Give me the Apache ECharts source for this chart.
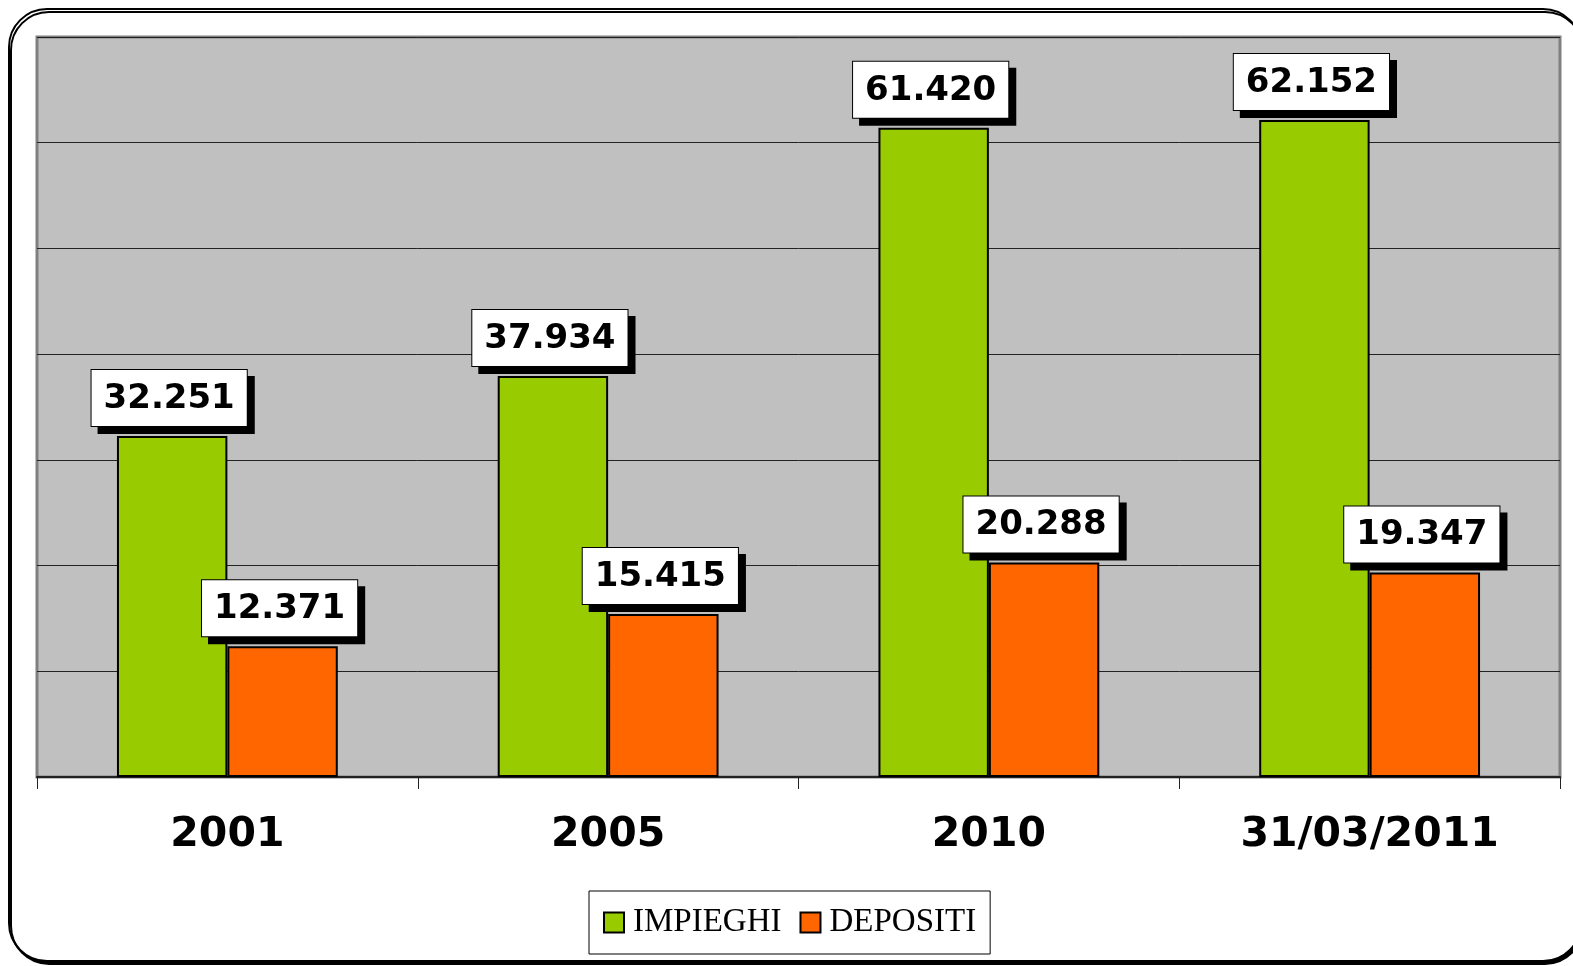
<!DOCTYPE html>
<html>
<head>
<meta charset="utf-8">
<script src="https://cdn.jsdelivr.net/npm/echarts@6/dist/echarts.min.js"></script>
<style>
html,body{margin:0;padding:0;background:#fff;}
#main{width:1573px;height:966px;}
</style>
</head>
<body>
<div id="main"></div>
<script>
var categories = ['2001', '2005', '2010', '31/03/2011'];
var impieghi = [32251, 37934, 61420, 62152];
var depositi = [12371, 15415, 20288, 19347];
var seriesNames = ['IMPIEGHI', 'DEPOSITI'];

var myChart = echarts.init(document.getElementById('main'));

function fmt(p) {
	// separatore delle migliaia all'italiana
	return (p.value / 1000).toFixed(3);
}

var valueLabel = {
	show: true,
	position: 'top',
	distance: 10,
	offset: [-3, 0],
	formatter: fmt,
	fontFamily: 'DejaVu Sans',
	fontWeight: 'bold',
	fontSize: 34,
	color: '#000',
	backgroundColor: '#fff',
	borderColor: '#000',
	borderWidth: 1,
	padding: [12, 12, 10, 12],
	shadowColor: '#000',
	shadowBlur: 0,
	shadowOffsetX: 7,
	shadowOffsetY: 7
};

option = {
	animation: false,
	graphic: [{
		type: 'rect',
		z: -10,
		shape: { x: 9, y: 9, width: 1572, height: 952, r: 38 },
		style: {
			fill: '#fff',
			stroke: '#000',
			lineWidth: 2,
			shadowColor: '#000',
			shadowOffsetX: 2,
			shadowOffsetY: 3,
			shadowBlur: 0
		}
	}],
	grid: {
		left: 37,
		top: 37,
		right: 13,
		bottom: 189,
		show: true,
		backgroundColor: '#c0c0c0',
		borderColor: '#808080',
		borderWidth: 3
	},
	legend: {
		data: seriesNames,
		left: 589,
		top: 891,
		backgroundColor: '#fff',
		borderColor: '#000',
		borderWidth: 1,
		padding: [15, 14, 15, 14],
		itemWidth: 20,
		itemHeight: 20,
		itemGap: 18,
		icon: 'rect',
		itemStyle: {
			borderColor: '#000',
			borderWidth: 2
		},
		textStyle: {
			fontFamily: 'Liberation Serif',
			fontSize: 33,
			padding: [0, 0, 0, 4],
			color: '#000'
		}
	},
	xAxis: [{
		type: 'category',
		data: categories,
		axisLine: {
			show: true,
			lineStyle: { color: '#222', width: 2 }
		},
		axisTick: {
			show: true,
			length: 12,
			lineStyle: { color: '#222', width: 1 }
		},
		axisLabel: {
			margin: 38,
			fontFamily: 'DejaVu Sans',
			fontWeight: 'bold',
			fontSize: 41,
			color: '#000'
		}
	}],
	yAxis: [{
		type: 'value',
		min: 0,
		max: 70000,
		interval: 10000,
		axisLabel: { show: false },
		axisLine: { show: false },
		axisTick: { show: false },
		splitLine: {
			lineStyle: { color: '#222', width: 1 }
		}
	}],
	series: [{
		name: seriesNames[0],
		type: 'bar',
		barGap: 0,
		barCategoryGap: '42%',
		itemStyle: {
			color: '#99cc00',
			borderColor: '#000',
			borderWidth: 2
		},
		label: valueLabel,
		data: impieghi
	}, {
		name: seriesNames[1],
		type: 'bar',
		itemStyle: {
			color: '#ff6600',
			borderColor: '#000',
			borderWidth: 2
		},
		label: valueLabel,
		data: depositi
	}]
};

myChart.setOption(option);
window.addEventListener("resize", function () {
	myChart.resize();
});
</script>
</body>
</html>
